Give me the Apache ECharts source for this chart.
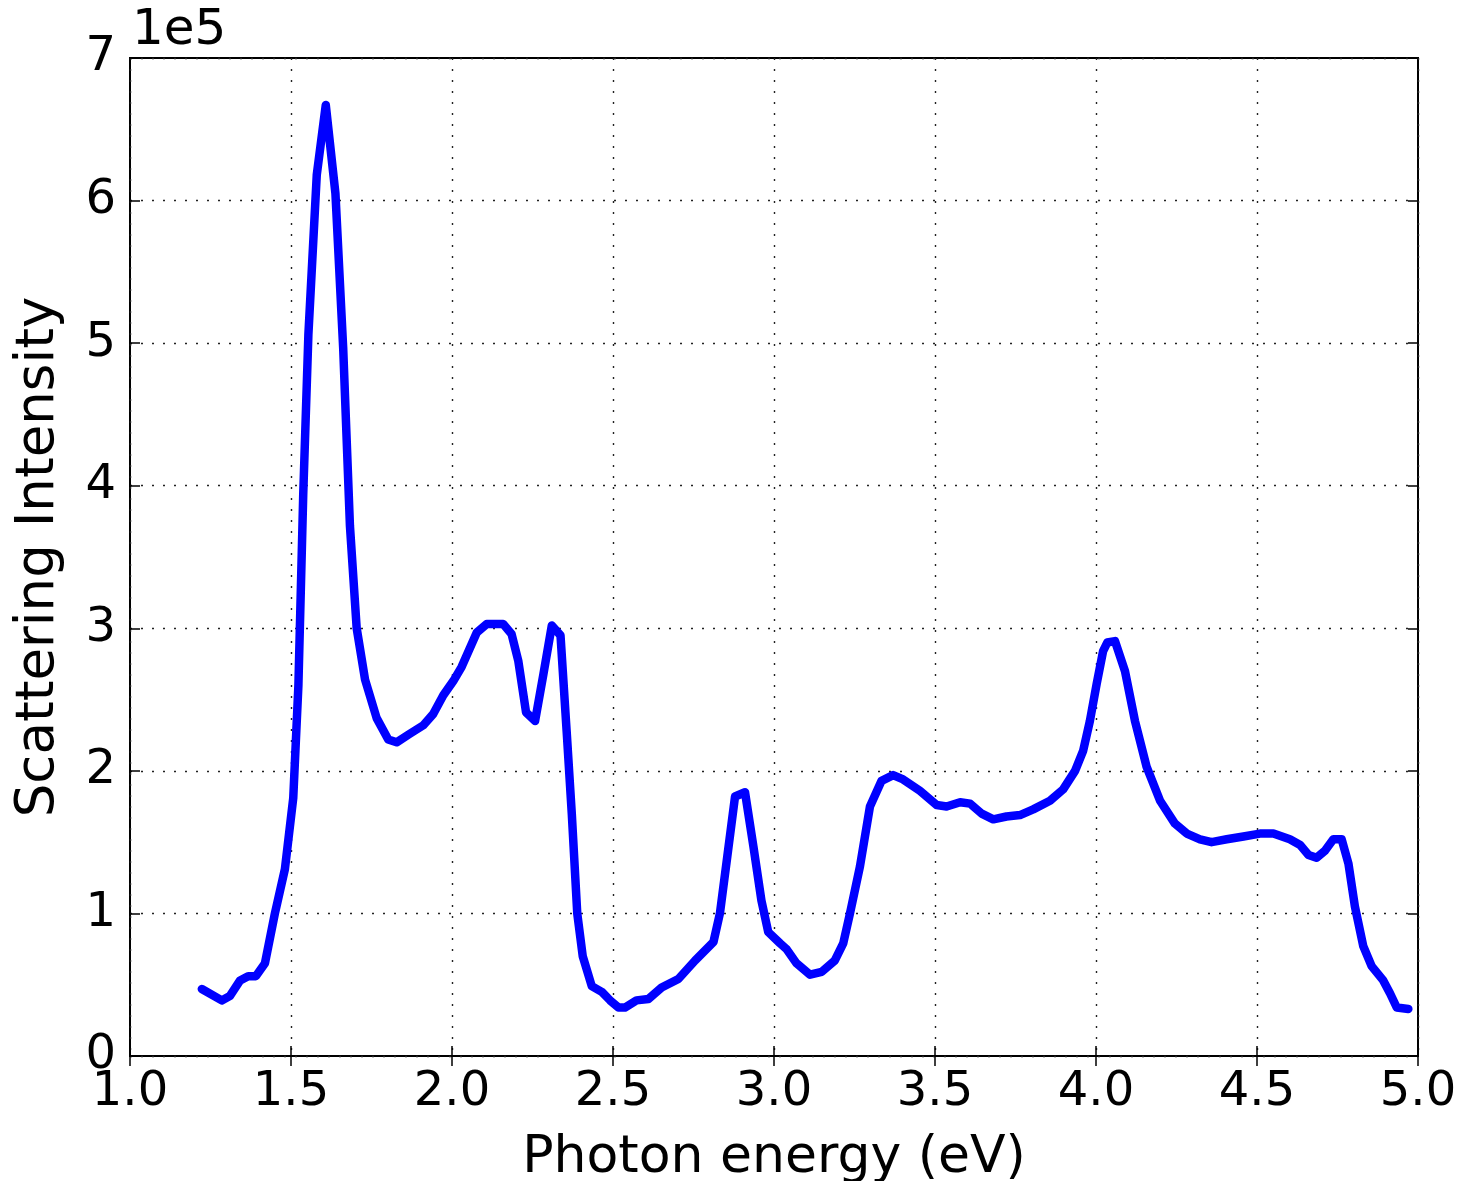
<!DOCTYPE html>
<html>
<head>
<meta charset="utf-8">
<script src="https://cdn.jsdelivr.net/npm/echarts@6/dist/echarts.min.js"></script>
<style>
  html, body { margin: 0; padding: 0; background: #fff; }
  #chart { width: 1465px; height: 1181px; }
</style>
</head>
<body>
<div id="chart"></div>
<script>
// photon energy (eV) and scattering intensity
const energy = [
  1.223, 1.285, 1.31, 1.342, 1.367, 1.391, 1.419, 1.45, 1.481, 1.507,
  1.523, 1.538, 1.554, 1.58, 1.608, 1.638, 1.662, 1.683, 1.704, 1.73,
  1.766, 1.802, 1.828, 1.869, 1.911, 1.942, 1.973, 2.004, 2.03, 2.077,
  2.108, 2.159, 2.185, 2.206, 2.23, 2.258, 2.284, 2.31, 2.337, 2.356,
  2.372, 2.389, 2.406, 2.434, 2.465, 2.491, 2.517, 2.537, 2.573, 2.61,
  2.651, 2.703, 2.755, 2.812, 2.832, 2.855, 2.879, 2.91, 2.936, 2.961,
  2.982, 3.019, 3.039, 3.07, 3.112, 3.148, 3.189, 3.215, 3.236, 3.267,
  3.298, 3.334, 3.37, 3.401, 3.453, 3.505, 3.536, 3.578, 3.609, 3.645,
  3.681, 3.722, 3.764, 3.805, 3.857, 3.898, 3.935, 3.96, 3.981, 4.002,
  4.022, 4.035, 4.059, 4.09, 4.121, 4.157, 4.199, 4.245, 4.282, 4.323,
  4.359, 4.406, 4.458, 4.509, 4.551, 4.602, 4.634, 4.66, 4.685, 4.711,
  4.737, 4.763, 4.784, 4.804, 4.83, 4.856, 4.892, 4.913, 4.934, 4.97
]
const intensity = [
  47000, 39000, 42000, 53000, 56000, 56000, 65000, 100000, 131000, 181000,
  260000, 394000, 506000, 618000, 667000, 605000, 497000, 372000, 300000, 264000,
  237000, 222000, 220000, 226000, 232000, 240000, 253000, 263000, 273000, 297000,
  303000, 303000, 296000, 277000, 241000, 235000, 268000, 302000, 295000, 228000,
  170000, 100000, 70000, 49000, 45000, 39000, 34000, 34000, 39000, 40000,
  48000, 54000, 67000, 80000, 100000, 140000, 182000, 185000, 147000, 109000,
  87000, 79000, 75000, 65000, 57000, 59000, 67000, 79000, 100000, 133000,
  175000, 193000, 197000, 194000, 186000, 176000, 175000, 178000, 177000, 170000,
  166000, 168000, 169000, 173000, 179000, 187000, 200000, 214000, 235000, 261000,
  284000, 290000, 291000, 270000, 235000, 203000, 179000, 163000, 156000, 152000,
  150000, 152000, 154000, 156000, 156000, 152000, 148000, 141000, 139000, 144000,
  152000, 152000, 135000, 105000, 77000, 63000, 53000, 44000, 34000, 33000
]
const xTicks = { min: 1.0, max: 5.0, step: 0.5 }
const yTicks = { min: 0, max: 700000, step: 100000 }

const chart = echarts.init(document.getElementById('chart'))

const fontFamily = 'DejaVu Sans'
const gridLine = { show: true, lineStyle: { color: '#222', width: 1.4, type: [2, 9] } }
const tick = { show: true, inside: true, length: 10, lineStyle: { color: '#000', width: 1.5 } }

chart.setOption({
  animation: false,
  textStyle: { fontFamily },
  grid: {
    left: 130,
    right: 47,
    top: 58,
    bottom: 125,
    containLabel: false,
    outerBoundsMode: 'none',
    show: true,
    borderColor: '#000',
    borderWidth: 2,
    backgroundColor: 'transparent'
  },
  graphic: [{
    type: 'text',
    left: 132,
    top: 6,
    style: { text: '1e5', font: '50px "DejaVu Sans"', fill: '#000' }
  }],
  xAxis: [{
    type: 'value',
    min: xTicks.min,
    max: xTicks.max,
    interval: xTicks.step,
    name: 'Photon energy (eV)',
    nameLocation: 'middle',
    nameGap: 76,
    nameTextStyle: { fontSize: 52, color: '#000' },
    axisLine: { show: false },
    axisTick: tick,
    axisLabel: { fontSize: 48, color: '#000', margin: 13, formatter: v => v.toFixed(1) },
    splitLine: gridLine
  }, {
    type: 'value',
    position: 'top',
    min: xTicks.min,
    max: xTicks.max,
    interval: xTicks.step,
    axisLine: { show: false },
    axisTick: tick,
    axisLabel: { show: false },
    splitLine: { show: false }
  }],
  yAxis: [{
    type: 'value',
    min: yTicks.min,
    max: yTicks.max,
    interval: yTicks.step,
    name: 'Scattering Intensity',
    nameLocation: 'middle',
    nameGap: 64,
    nameTextStyle: { fontSize: 53, color: '#000' },
    axisLine: { show: false },
    axisTick: tick,
    axisLabel: { fontSize: 48, color: '#000', margin: 14, formatter: v => String(v / 100000) },
    splitLine: gridLine
  }, {
    type: 'value',
    position: 'right',
    min: yTicks.min,
    max: yTicks.max,
    interval: yTicks.step,
    axisLine: { show: false },
    axisTick: tick,
    axisLabel: { show: false },
    splitLine: { show: false }
  }],
  series: [{
    type: 'line',
    data: energy.map((e, i) => [e, intensity[i]]),
    showSymbol: false,
    smooth: false,
    lineStyle: { color: '#0000ff', width: 8.5, join: 'round', cap: 'round' }
  }]
})
</script>
</body>
</html>
